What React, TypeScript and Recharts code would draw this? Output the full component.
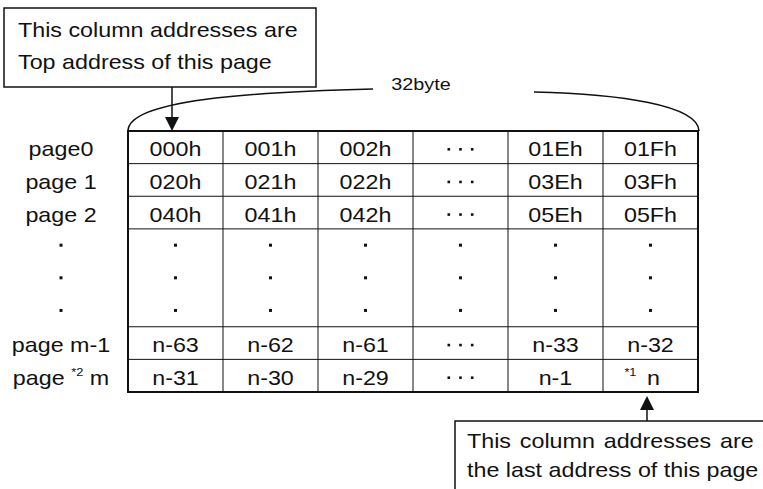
import React from 'react';
import {
  ComposedChart,
  XAxis,
  YAxis,
  Scatter,
  ReferenceLine,
  ReferenceArea,
  Customized,
} from 'recharts';

// row labels down the left side ('.' = vertical ellipsis dot)
const rowLabels = ['page0', 'page 1', 'page 2', '.', '.', '.', 'page m-1', 'page *2 m'];

// cell contents per row ('...' = horizontal ellipsis)
const page0 = ['000h', '001h', '002h', '...', '01Eh', '01Fh'];
const page1 = ['020h', '021h', '022h', '...', '03Eh', '03Fh'];
const page2 = ['040h', '041h', '042h', '...', '05Eh', '05Fh'];
const dotRow = ['.', '.', '.', '.', '.', '.'];
const pageM1 = ['n-63', 'n-62', 'n-61', '...', 'n-33', 'n-32'];
const pageM = ['n-31', 'n-30', 'n-29', '...', 'n-1', '*1 n'];

const rows = [page0, page1, page2, dotRow, dotRow, dotRow, pageM1, pageM];
const colCount = page0.length;

const cells = rows.flatMap((row, r) =>
  row.map((text, c) => ({ x: c + 0.5, y: r + 0.5, text }))
);

// horizontal rules between rows, except inside the run of dot rows
const rowRules = rows
  .map((_, i) => i)
  .filter((i) => i > 0 && !(rows[i] === dotRow && rows[i - 1] === dotRow));
const colRules = Array.from({ length: colCount - 1 }, (_, i) => i + 1);
const rowTicks = rows.map((_, i) => i + 0.5);

const INK = '#111';
const FONT = '"Liberation Sans", Arial, Helvetica, sans-serif';
const SX = 1.165; // the source lettering is a little wide
const FS = 20;
const LABEL_X = 61;

function Dot({ cx, cy, s = 3 }: { cx: number; cy: number; s?: number }) {
  return <rect x={cx - s / 2} y={cy - s / 2} width={s} height={s} fill={INK} />;
}

function Wide({ x, y, children, anchor = 'middle', size = FS, ws = 0 }: any) {
  return (
    <g transform={`translate(${x} ${y}) scale(${SX} 1)`}>
      <text
        x={0}
        y={0}
        textAnchor={anchor}
        fontSize={size}
        fontFamily={FONT}
        fill={INK}
        style={{ wordSpacing: ws }}
      >
        {children}
      </text>
    </g>
  );
}

function drawText(cx: number, cy: number, text: string) {
  if (text === '.') return <Dot cx={cx} cy={cy} />;
  if (text === '...')
    return (
      <g>
        {[-1, 0, 1].map((k) => (
          <Dot key={k} cx={cx + k * 11.7} cy={cy + 2} s={2.6} />
        ))}
      </g>
    );
  const base = cy + 9;
  const m = text.match(/^(.*?)\*(\d+)\s*(.*)$/);
  if (!m) return <Wide x={cx} y={base}>{text}</Wide>;
  const [, pre, sup, post] = m;
  if (pre) {
    return (
      <Wide x={cx} y={base}>
        {pre.trimEnd() + '\u00a0'}
        <tspan fontSize={11} dy={-9}>
          *{sup}
        </tspan>
        <tspan dy={9}>{'\u00a0' + post}</tspan>
      </Wide>
    );
  }
  return (
    <g>
      <Wide x={cx + 3} y={base}>{post}</Wide>
      <Wide x={cx - 14} y={base - 9} anchor="end" size={11}>
        *{sup}
      </Wide>
    </g>
  );
}

function CellShape(props: any) {
  const { cx, cy, payload } = props;
  return drawText(cx, cy, payload.text);
}

function RowTick(props: any) {
  const { y, payload } = props;
  const label = rowLabels[Math.floor(payload.value)];
  return drawText(LABEL_X, y, label);
}

function Annotations() {
  return (
    <g>
      {/* top call-out */}
      <rect x={4} y={8} width={312} height={79} fill="none" stroke={INK} strokeWidth={1.5} />
      <Wide x={18} y={37} anchor="start">This column addresses are</Wide>
      <Wide x={18} y={69} anchor="start">Top address of this page</Wide>
      <line x1={172} y1={87} x2={172} y2={118} stroke={INK} strokeWidth={1.5} />
      <polygon points="165,117 179,117 172,131" fill={INK} />

      {/* 32 byte brace */}
      <path d="M128,131 C128,100 250,92 373,89" fill="none" stroke={INK} strokeWidth={1.6} />
      <path d="M534,92 C620,94 698,105 699,131" fill="none" stroke={INK} strokeWidth={1.6} />
      <Wide x={421} y={90} size={17}>32byte</Wide>

      {/* bottom call-out */}
      <polygon points="640,410 654,410 647,396" fill={INK} />
      <line x1={647} y1={409} x2={647} y2={421} stroke={INK} strokeWidth={1.5} />
      <rect x={455} y={421} width={400} height={120} fill="none" stroke={INK} strokeWidth={1.5} />
      <Wide x={467} y={448} anchor="start" ws={2}>This column addresses are</Wide>
      <Wide x={467} y={477} anchor="start">the last address of this page</Wide>
    </g>
  );
}

export default function App() {
  return (
    <div style={{ position: 'absolute', left: 0, top: 0, width: 763, height: 489, background: '#fff' }}>
      <ComposedChart
        width={763}
        height={489}
        data={cells}
        margin={{ top: 131, right: 65, bottom: 97, left: 0 }}
      >
        <XAxis type="number" dataKey="x" domain={[0, colCount]} hide />
        <YAxis
          type="number"
          dataKey="y"
          domain={[0, rows.length]}
          reversed
          width={128}
          ticks={rowTicks}
          interval={0}
          axisLine={false}
          tickLine={false}
          tick={<RowTick />}
        />
        {colRules.map((c) => (
          <ReferenceLine key={`c${c}`} x={c} stroke={INK} strokeWidth={1} />
        ))}
        {rowRules.map((r) => (
          <ReferenceLine key={`r${r}`} y={r} stroke={INK} strokeWidth={1} />
        ))}
        <ReferenceArea
          x1={0}
          x2={colCount}
          y1={0}
          y2={rows.length}
          fill="none"
          fillOpacity={0}
          stroke={INK}
          strokeWidth={2}
          ifOverflow="visible"
        />
        <Scatter data={cells} dataKey="y" shape={<CellShape />} isAnimationActive={false} />
        <Customized component={<Annotations />} />
      </ComposedChart>
    </div>
  );
}
